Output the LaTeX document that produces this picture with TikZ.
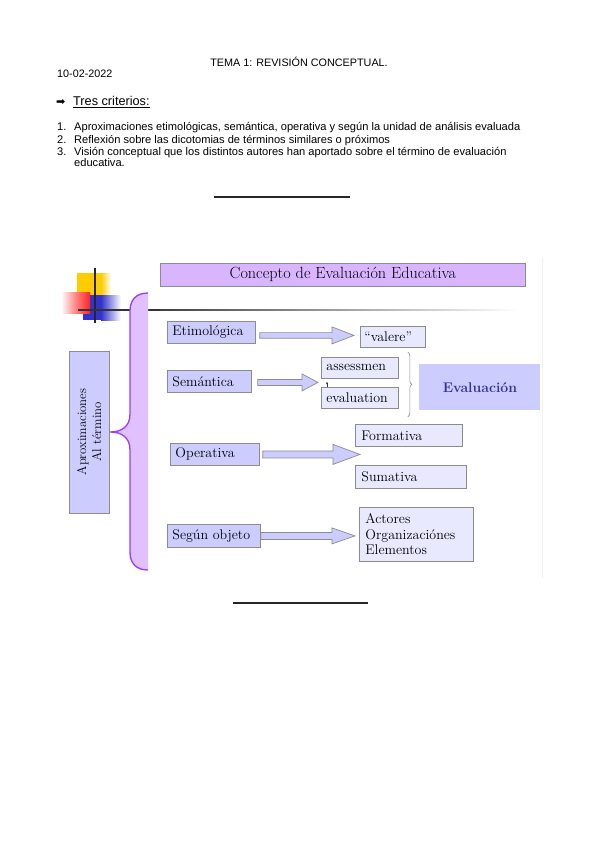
\documentclass[tikz,border=0pt]{standalone}
\usepackage{fontspec}
\newfontfamily\hdr{Liberation Sans}
\newfontfamily\djv{DejaVu Sans}
\usetikzlibrary{calc,decorations.pathreplacing,arrows.meta}
\definecolor{inb}{HTML}{CCCCFF}
\definecolor{outb}{HTML}{E8E8FF}
\definecolor{ttl}{HTML}{D9B5FF}
\definecolor{brd}{HTML}{8C8C8C}
\definecolor{purp}{HTML}{9B3CF5}
\definecolor{purpfill}{HTML}{E0C0FF}
\definecolor{evtext}{HTML}{333399}
\definecolor{yel}{HTML}{FFCC00}
\definecolor{blu}{HTML}{3333CC}
\definecolor{rd}{HTML}{FF2222}
\newcommand\blockarrow[5]{%
  \draw[blk] ($(#1)+(0,-#4)$) -- ($(#2)+(-#3,-#4)$) -- ($(#2)+(-#3,-#5)$) -- (#2)
    -- ($(#2)+(-#3,#5)$) -- ($(#2)+(-#3,#4)$) -- ($(#1)+(0,#4)$) -- cycle;}
\begin{document}
\begin{tikzpicture}[x=1pt,y=-1pt,
  hdrtext/.style={font=\hdr\fontsize{10.8}{13}\selectfont, anchor=base west, inner sep=0pt},
  listtext/.style={hdrtext, font=\hdr\fontsize{11.1}{13}\selectfont},
  box/.style={draw=brd, line width=0.8pt, inner xsep=5pt, inner ysep=0pt, anchor=north west,
    align=left, font=\fontsize{14}{15.5}\selectfont, text=black},
  inbox/.style={box, fill=inb},
  outbox/.style={box, fill=outb},
  blk/.style={draw=brd, line width=0.7pt, fill=inb},
  rule/.style={line width=1.6pt, black!85},
]
\useasboundingbox (0,0) rectangle (599,848);

% ---------- header ----------
\node[hdrtext, anchor=base] (title) at (299,66.5) {TEMA 1: REVISIÓN CONCEPTUAL.};
\node[hdrtext] (date) at (57,78) {10-02-2022};
\node[hdrtext, font=\djv\fontsize{11}{12}\selectfont] (arr) at (56,105.5) {➡};
\node[hdrtext, font=\hdr\fontsize{12.7}{14}\selectfont] (tres) at (73,105.5) {\underline{Tres criterios:}};
\node[listtext] (n1) at (57,131) {1.};
\node[listtext] (l1) at (74,131) {Aproximaciones etimológicas, semántica, operativa y según la unidad de análisis evaluada};
\node[listtext] (n2) at (57,143) {2.};
\node[listtext] (l2) at (74,143) {Reflexión sobre las dicotomias de términos similares o próximos};
\node[listtext] (n3) at (57,155) {3.};
\node[listtext] (l3) at (74,155) {Visión conceptual que los distintos autores han aportado sobre el término de evaluación};
\node[listtext] (l4) at (74,166.5) {educativa.};
\draw[rule] (214,197) -- (350,197);
\draw[rule] (233,603) -- (368,603);

% ---------- slide frame ----------
\draw[black!6, line width=0.8pt] (542,257) -- (542,578);

% decoration squares
\fill[yel] (77,273) rectangle (101,297);
\shade[left color=yel, right color=white] (101,273) rectangle (111,297);
\fill[blu] (83,295) rectangle (101,320);
\shade[left color=blu, right color=white] (101,295) rectangle (121,320);
\shade[shading=axis, shading angle=135, left color=white, right color=rd, middle color=rd!55] (61,292) rectangle (90,313);
\draw[black!85, line width=1.2pt] (95,268) -- (95,323);
\draw[black!80, line width=1.2pt] (78,310) -- (160,310);
\shade[left color=black!75, right color=white] (160,309.4) rectangle (520,310.8);

% purple bracket
\fill[purpfill] (148,293) .. controls (136,293) and (130,300) .. (130,311) -- (130,414)
  .. controls (130,427) and (121,432) .. (110,432) .. controls (121,432) and (130,437) .. (130,450)
  -- (130,552) .. controls (130,563) and (136,570) .. (148,570) -- cycle;
\draw[purp, line width=1.3pt] (148,293) .. controls (136,293) and (130,300) .. (130,311) -- (130,414)
  .. controls (130,427) and (121,432) .. (110,432) .. controls (121,432) and (130,437) .. (130,450)
  -- (130,552) .. controls (130,563) and (136,570) .. (148,570);

% ---------- nodes ----------
\node[box, fill=ttl, align=center, minimum width=365pt, minimum height=23pt, inner xsep=0pt,
  font=\fontsize{16.2}{18}\selectfont] (ttlbox) at (160,263) {Concepto de Evaluación Educativa};

\node[box, fill=inb, anchor=center, rotate=90, align=center, minimum width=162pt, minimum height=40pt,
  inner xsep=0pt, font=\fontsize{12.8}{15}\selectfont] (aprox) at (89,432) {Aproximaciones\\Al término};

\node[inbox, text width=78pt, minimum height=22pt] (etim) at (167,321) {Etimológica};
\node[outbox, text width=57pt, minimum height=21pt, inner xsep=4pt] (valere) at (360,326) {“valere”};

\node[inbox, text width=74pt, minimum height=22pt] (sem) at (167,370) {Semántica};
\node[outbox, text width=67pt, minimum height=21pt] (assess) at (321,357) {assessmen};
\node[outbox, text width=67pt, minimum height=21pt] (evalu) at (321,387) {evaluation};
\node[box, draw=none, fill=inb, align=center, minimum width=121pt, minimum height=46pt, inner xsep=0pt,
  font=\bfseries\fontsize{14}{16}\selectfont, text=evtext] (evbox) at (419,364) {Evaluación};

\node[inbox, text width=79pt, minimum height=22pt] (oper) at (170,443) {Operativa};
\node[outbox, text width=95pt, minimum height=22pt, inner xsep=6pt] (form) at (355,424) {Formativa};
\node[outbox, text width=99pt, minimum height=23pt, inner xsep=6pt] (suma) at (355,465) {Sumativa};

\node[inbox, text width=83pt, minimum height=23pt] (segun) at (167,524) {Según objeto};
\node[outbox, text width=102pt, minimum height=54pt, inner xsep=6pt] (actor) at (359,507) {Actores\\Organizaciónes\\Elementos};

% ---------- connectors ----------
\coordinate (s1) at ($(etim.east)+(4,3)$);
\coordinate (t1) at ($(s1 -| valere.west)+(-6,0)$);
\blockarrow{s1}{t1}{22}{2.8}{8.5}

\coordinate (s2) at ($(sem.east)+(6,1)$);
\coordinate (t2) at ($(s2 -| assess.west)+(-3,0)$);
\blockarrow{s2}{t2}{16}{3}{8.5}

\coordinate (s3) at ($(oper.east)+(3,0)$);
\coordinate (t3) at ($(s3 -| form.west)+(5,0)$);
\blockarrow{s3}{t3}{27}{3.5}{10}

\coordinate (s4) at ($(segun.east)+(0,0)$);
\coordinate (t4) at ($(s4 -| actor.west)+(-4,0)$);
\blockarrow{s4}{t4}{23}{3.5}{8}

\draw[-{Stealth[length=2.5pt,width=2.2pt]}, line width=0.5pt, black!80]
  ($(evalu.north west)+(6,0)$) -- ($(assess.south west)+(6,3)$);

\draw[decorate, decoration={brace, amplitude=4pt}, draw=brd, line width=0.6pt]
  ($(assess.north east)+(9,-5)$) -- ($(evalu.south east)+(9,8)$);
\end{tikzpicture}
\end{document}
